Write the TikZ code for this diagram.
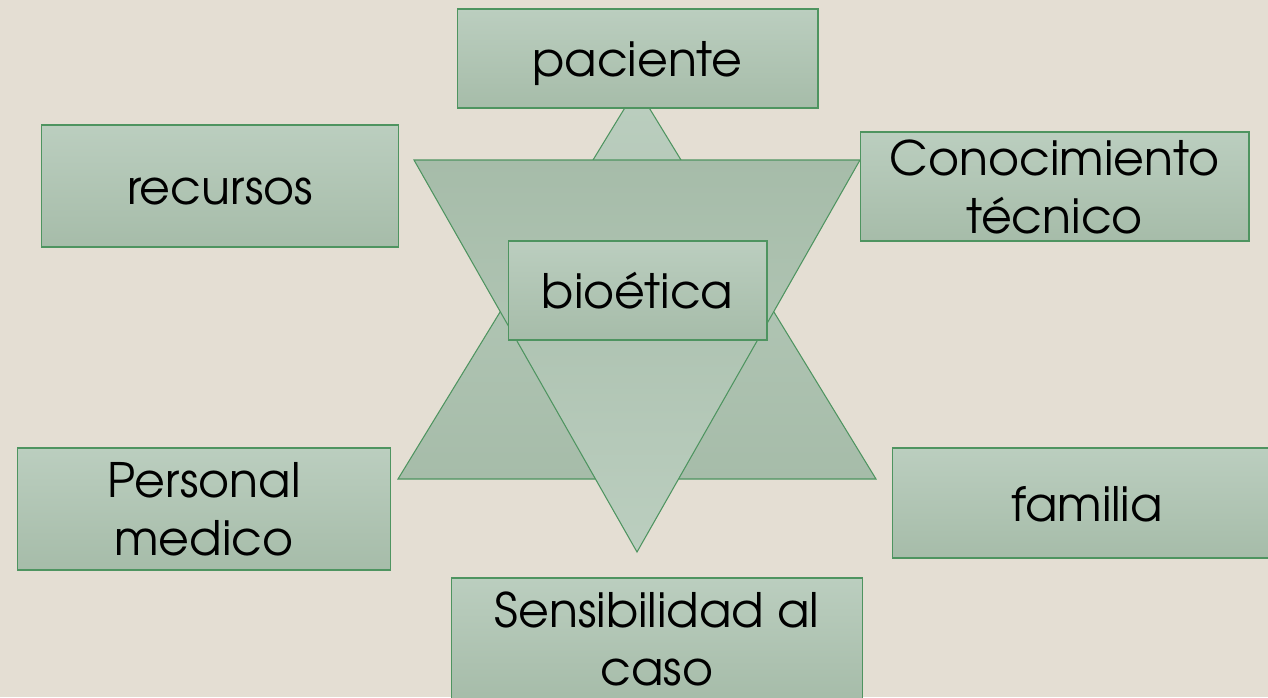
\documentclass[tikz,border=0pt]{standalone}
\usepackage{fontspec}
\setmainfont{TeX Gyre Adventor}
\definecolor{fondo}{HTML}{E4DED3}
\definecolor{verdeclaro}{HTML}{BBCEBF}
\definecolor{verdeoscuro}{HTML}{A6BCA9}
\definecolor{borde}{HTML}{4E9460}
\begin{document}
\begin{tikzpicture}
  [x=0.02cm,y=-0.02cm,
   caja/.style={draw=borde,line width=0.6pt,top color=verdeclaro,bottom color=verdeoscuro,
     inner sep=0pt,align=center,font=\fontsize{27}{33}\selectfont},
   linea/.style={text height=25.6pt,text depth=4.6pt},
   triangulo/.style={draw=borde,line width=0.6pt}]
  \fill[fondo] (0,0) rectangle (1268,697);
  \useasboundingbox (0,0) rectangle (1268,697);

  % triangulos
  \draw[triangulo,top color=verdeclaro,bottom color=verdeoscuro] (637,88) -- (876,479) -- (398,479) -- cycle;
  \draw[triangulo,top color=verdeoscuro,bottom color=verdeclaro] (414,160) -- (860,160) -- (637,552) -- cycle;

  \node[caja,linea,minimum width=7.22cm,minimum height=1.98cm] (pac) at (637.5,58.5)  {paciente};
  \node[caja,linea,minimum width=7.16cm,minimum height=2.44cm] (rec) at (220,186)     {recursos};
  \node[caja,minimum width=7.78cm,minimum height=2.18cm] (con) at (1054.5,186.5) {Conocimiento\\técnico};
  \node[caja,linea,minimum width=5.18cm,minimum height=1.98cm] (bio) at (637.5,290.5) {bioética};
  \node[caja,minimum width=7.48cm,minimum height=2.44cm] (per) at (204,509)     {Personal\\medico};
  \node[caja,linea,minimum width=7.80cm,minimum height=2.20cm] (fam) at (1087,503)    {familia};
  \node[caja,minimum width=8.24cm,minimum height=2.44cm] (sen) at (657,639)     {Sensibilidad al\\caso};

\end{tikzpicture}
\end{document}
